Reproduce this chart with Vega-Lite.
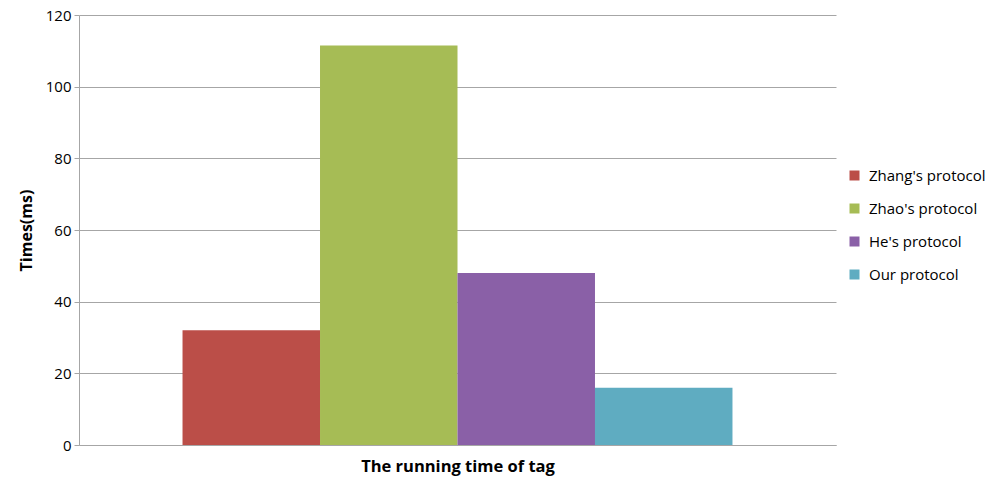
{
  "$schema": "https://vega.github.io/schema/vega-lite/v6.json",
  "autosize": {"type": "none"},
  "padding": {"left": 79, "top": 15, "right": 167, "bottom": 36},
  "width": 757,
  "height": 430,
  "background": "white",
  "data": {"values": [
    {"protocol": "Zhang's protocol", "time": 32},
    {"protocol": "Zhao's protocol", "time": 111.5},
    {"protocol": "He's protocol", "time": 48},
    {"protocol": "Our protocol", "time": 16}
  ]},
  "mark": {"type": "bar"},
  "encoding": {
    "x": {
      "field": "protocol", "type": "nominal", "sort": null,
      "scale": {"paddingInner": 0, "paddingOuter": 0.753},
      "axis": {"title": "The running time of tag", "labels": false, "ticks": false,
        "domainColor": "#A6A6A6", "titleFont": "Open Sans", "titleFontSize": 16.5, "titleFontWeight": "bold",
        "titleColor": "#000000", "titlePadding": 13}
    },
    "y": {
      "field": "time", "type": "quantitative",
      "scale": {"domain": [0, 120], "nice": false},
      "axis": {"title": "Times(ms)", "values": [0, 20, 40, 60, 80, 100, 120],
        "grid": true, "gridColor": "#A6A6A6", "domainColor": "#A6A6A6", "tickColor": "#A6A6A6",
        "tickSize": 5, "labelFont": "Open Sans", "labelFontSize": 15, "labelColor": "#000000", "labelPadding": 3,
        "titleFont": "Open Sans", "titleFontSize": 16, "titleFontWeight": "bold", "titleColor": "#000000",
        "titlePadding": 11}
    },
    "color": {
      "field": "protocol", "type": "nominal", "sort": null,
      "scale": {"domain": ["Zhang's protocol", "Zhao's protocol", "He's protocol", "Our protocol"],
        "range": ["#BB4E48", "#A6BC55", "#8A60A7", "#5FACC1"]},
      "legend": {"title": null, "orient": "none", "legendX": 768, "legendY": 153,
        "symbolType": "square", "symbolSize": 100, "symbolStrokeWidth": 0, "symbolOpacity": 1,
        "labelFont": "Open Sans", "labelFontSize": 15, "labelColor": "#000000", "rowPadding": 17, "labelOffset": 7}
    }
  },
  "config": {"view": {"stroke": null}}
}
